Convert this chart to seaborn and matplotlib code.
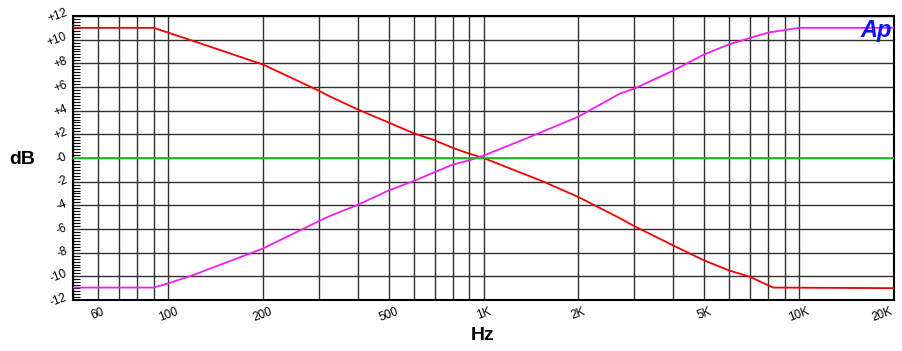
import numpy as np
import pandas as pd
import matplotlib
matplotlib.use("Agg")
from matplotlib import pyplot as plt
from matplotlib.ticker import FixedLocator, MultipleLocator, NullFormatter
import seaborn as sns

# =============================================================================
# data (Hz, dB)
# =============================================================================
red_freq = [50, 90, 100, 123, 200, 300, 326, 400, 500, 600, 700, 800, 900, 1000,
            1550, 2000, 2710, 3000, 4000, 5000, 6000, 7000, 8280, 20000]
red_db = [11.0, 11.0, 10.6, 9.8, 7.9, 5.7, 5.2, 4.1, 3.0, 2.1, 1.5, 0.85, 0.37, 0.0,
          -2.0, -3.3, -5.1, -5.75, -7.4, -8.65, -9.5, -10.05, -10.95, -11.0]

mag_freq = [50, 90, 100, 120, 200, 300, 326, 400, 500, 600, 700, 800, 900, 1000,
            1440, 2000, 2710, 3000, 4000, 5000, 6000, 7000, 8000, 10000, 20000]
mag_db = [-10.95, -10.95, -10.6, -9.9, -7.65, -5.35, -4.9, -3.95, -2.75, -1.95, -1.2,
          -0.55, -0.2, 0.2, 1.9, 3.5, 5.45, 5.85, 7.4, 8.75, 9.6, 10.15, 10.6, 11.0, 11.0]

green_freq = [50, 20000]
green_db = [0.0, 0.0]

x_tick_vals = [60, 100, 200, 500, 1000, 2000, 5000, 10000, 20000]
x_tick_labels = ['60', '100', '200', '500', '1K', '2K', '5K', '10K', '20K']
y_tick_vals = [12, 10, 8, 6, 4, 2, 0, -2, -4, -6, -8, -10, -12]
y_tick_labels = ['+12', '+10', '+8', '+6', '+4', '+2', '-0', '-2', '-4', '-6', '-8', '-10', '-12']

df = pd.concat([
    pd.DataFrame({'freq': red_freq, 'dB': red_db, 'trace': 'red'}),
    pd.DataFrame({'freq': mag_freq, 'dB': mag_db, 'trace': 'magenta'}),
    pd.DataFrame({'freq': green_freq, 'dB': green_db, 'trace': 'green'}),
])

# =============================================================================
# plot
# =============================================================================
sns.set_style('white')
plt.rcParams['font.family'] = ['Liberation Sans', 'DejaVu Sans']
plt.rcParams['text.color'] = 'black'
plt.rcParams['xtick.color'] = 'black'
plt.rcParams['ytick.color'] = 'black'

fig = plt.figure(figsize=(9.03, 3.51), dpi=100)
ax = fig.add_axes([73 / 903, 1 - 300 / 351, (894 - 73) / 903, (300 - 16) / 351])

sns.lineplot(data=df, x='freq', y='dB', hue='trace', ax=ax, legend=False,
             palette={'red': '#f00000', 'magenta': '#f020f0', 'green': '#20c020'},
             linewidth=1.3, estimator=None, zorder=3)

ax.set_xscale('log')
ax.set_xlim(50, 20000)
ax.set_ylim(-12, 12)

# grid at every 1..9 step per decade on x, every 2 dB on y
grid_freqs = [m * 10 ** e for e in range(1, 5) for m in range(1, 10)]
grid_freqs = [f for f in grid_freqs if 50 <= f <= 10000]
ax.xaxis.set_major_locator(FixedLocator(x_tick_vals))
ax.xaxis.set_minor_locator(FixedLocator(grid_freqs))
ax.xaxis.set_minor_formatter(NullFormatter())
ax.set_xticklabels(x_tick_labels, rotation=20, ha='center', va='top', fontsize=8.5)
ax.get_xticklabels()[-1].set_ha('right')
ax.set_yticks(y_tick_vals)
ax.set_yticklabels(y_tick_labels, rotation=20, ha='right', va='center', fontsize=8.5)
ax.yaxis.set_minor_locator(MultipleLocator(0.25))

ax.grid(which='both', axis='x', color='#303030', linewidth=1.0)
ax.grid(which='major', axis='y', color='#303030', linewidth=1.0)
ax.tick_params(axis='x', which='both', length=0, pad=4)
ax.tick_params(axis='y', which='major', length=0, pad=3)
ax.tick_params(axis='y', which='minor', direction='in', length=5, width=0.8,
               color='black', left=True, right=False)

for s in ax.spines.values():
    s.set_color('black')
    s.set_linewidth(1.5)

ax.set_xlabel('')
ax.set_ylabel('')
fig.text(22 / 903, 1 - 160 / 351, 'dB', fontsize=14, fontweight='bold',
         ha='center', va='center', color='black')
fig.text(483 / 903, 1 - 335 / 351, 'Hz', fontsize=14, fontweight='bold',
         ha='center', va='center', color='black')
ax.text(0.997, 0.95, 'Ap', transform=ax.transAxes, fontsize=17,
        fontweight='heavy', style='italic', color='#1010ff',
        ha='right', va='center', zorder=4)

fig.savefig('out.png', dpi=100)
